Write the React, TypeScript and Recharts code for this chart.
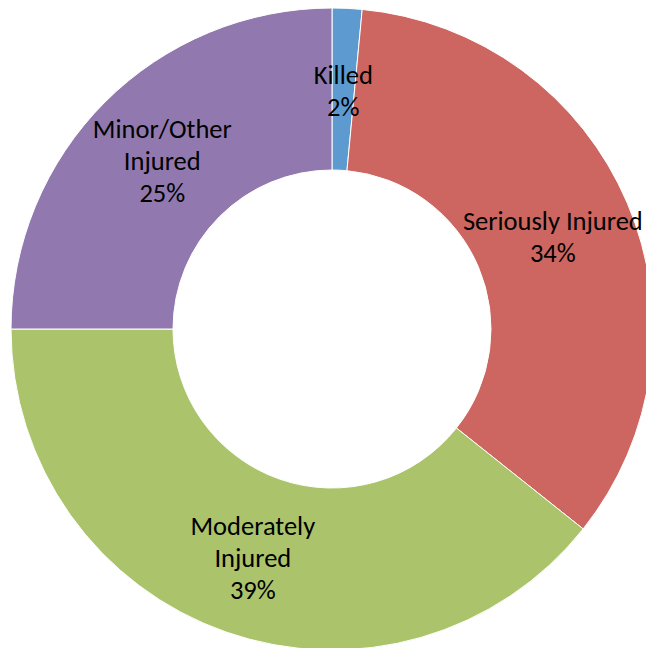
import React from 'react';
import { PieChart, Pie, Cell } from 'recharts';

// injury severity shares (percent of casualties)
const categories = ['Killed', 'Seriously Injured', 'Moderately Injured', 'Minor/Other Injured'];
const values = [1.5, 34.2, 39.3, 25.0];
const labelLines = [['Killed'], ['Seriously Injured'], ['Moderately', 'Injured'], ['Minor/Other', 'Injured']];
const colors = ['#5C9AD0', '#CD6660', '#ABC46C', '#9179AF'];

const total = values.reduce((a, b) => a + b, 0);
const data = categories.map((name, i) => ({ name, value: values[i], lines: labelLines[i] }));

const RAD = Math.PI / 180;

const renderLabel = (props: any) => {
  const { cx, cy, midAngle, innerRadius, outerRadius, index } = props;
  const r = (innerRadius + outerRadius) / 2;
  const x = cx + r * Math.cos(-midAngle * RAD);
  const y = cy + r * Math.sin(-midAngle * RAD) + 2;
  const pct = Math.round((values[index] / total) * 100 + 1e-9);
  const lines = [...labelLines[index], `${pct}%`];
  const lh = 32;
  const startY = y - ((lines.length - 1) * lh) / 2;
  return (
    <text
      x={x}
      y={startY}
      textAnchor="middle"
      dominantBaseline="central"
      fill="#000"
      fontSize={26.5}
      fontFamily="Carlito, Lato, sans-serif"
    >
      {lines.map((t, i) => (
        <tspan key={i} x={x} y={startY + i * lh}>
          {t}
        </tspan>
      ))}
    </text>
  );
};

export default function App() {
  return (
    <div style={{ position: 'absolute', left: 0, top: 0, width: 646, height: 648, background: '#fff' }}>
      <PieChart width={646} height={648} margin={{ top: 0, right: 0, bottom: 0, left: 0 }}>
        <Pie
          data={data}
          dataKey="value"
          nameKey="name"
          cx={332}
          cy={329}
          innerRadius={159}
          outerRadius={321}
          startAngle={90}
          endAngle={-270}
          stroke="#fff"
          strokeWidth={1}
          label={renderLabel}
          labelLine={false}
          isAnimationActive={false}
        >
          {data.map((d, i) => (
            <Cell key={d.name} fill={colors[i]} />
          ))}
        </Pie>
      </PieChart>
    </div>
  );
}
